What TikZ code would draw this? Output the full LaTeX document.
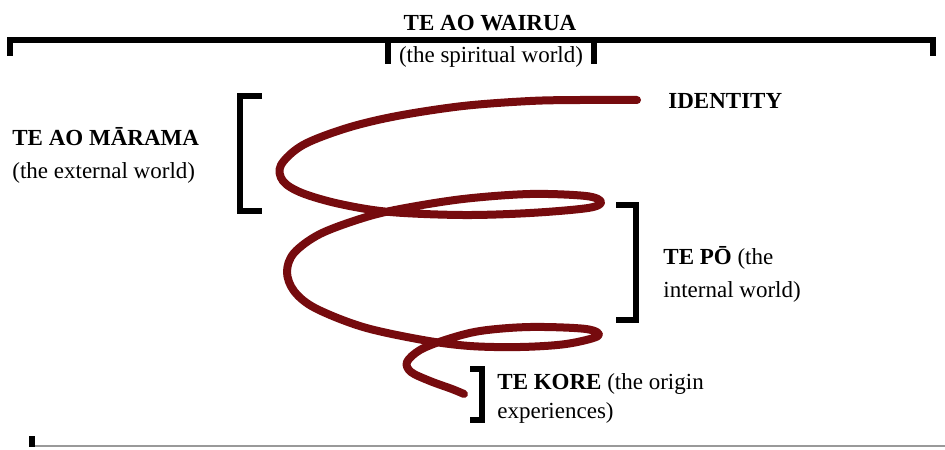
\documentclass[tikz,border=0pt]{standalone}
\usepackage{fontspec}
\setmainfont{Liberation Serif}
\usepackage{tikz}
\tikzstyle{brak} = [draw, line width=2.6pt, line cap=butt]
\tikzstyle{spiral} = [draw=spiralred, line width=4pt, line cap=round, line join=round]
\tikzstyle{txt} = [inner sep=0pt, anchor=base west, align=left, font=\fontsize{11.5}{16.5}\selectfont]
\definecolor{spiralred}{HTML}{760B0E}

\begin{document}
\begin{tikzpicture}[x=0.5pt, y=-0.5pt]
	\useasboundingbox (0,0) rectangle (945,449);

	% outer bracket and ground line
	\draw [brak] (10,56) -- (10,40) -- (933,40) -- (933,56);
	\draw [brak] (388,64) -- (388,40);
	\draw [brak] (594,64) -- (594,40);
	\draw [gray!80, line width=1pt] (32,446) -- (945,446);
	\draw [brak] (32,436) -- (32,447);

	\node [txt, anchor=base, font=\bfseries\fontsize{11.5}{16.5}\selectfont] (wairua) at (490,31) {TE AO WAIRUA};
	\node [txt, anchor=base] (wairua_sub) at (491,63) {(the spiritual world)};

	% the spiral
	\draw [spiral] plot [smooth, tension=0.55] coordinates {
		(637,100) (580,100) (530,101) (463,106) (397,116) (347,128) (303,145) (281,165)
		(283,181) (302,193) (340,204) (390,212) (463,215) (530,213) (588,208) (601,202)
		(586,196) (530,194) (463,199) (400,209) (363,218) (320,234) (294,253) (287,272)
		(294,291) (315,308) (363,327) (423,340) (470,346) (520,347) (566,344) (598,336)
		(586,329) (530,327) (480,331) (445,340) (420,350) (407,362) (411,372) (430,381)
		(452,389) (464,394)};

	% side brackets
	\draw [brak] (262,96) -- (240,96) -- (240,211) -- (262,211);
	\draw [brak] (616,205) -- (636,205) -- (636,320) -- (616,320);
	\draw [brak] (470,369) -- (482,369) -- (482,420) -- (470,420);

	% multi-line labels sit on their last baseline
	\node [txt] (marama) at (12,178) {\textbf{TE AO MĀRAMA}\\(the external world)};
	\node [txt, font=\bfseries\fontsize{11.5}{16.5}\selectfont] (identity) at (668,108) {IDENTITY};
	\node [txt] (po) at (663,297) {\textbf{TE PŌ} (the\\internal world)};
	\node [txt, font=\fontsize{11.5}{14.5}\selectfont] (kore) at (497,418) {\textbf{TE KORE} (the origin\\experiences)};
\end{tikzpicture}
\end{document}
